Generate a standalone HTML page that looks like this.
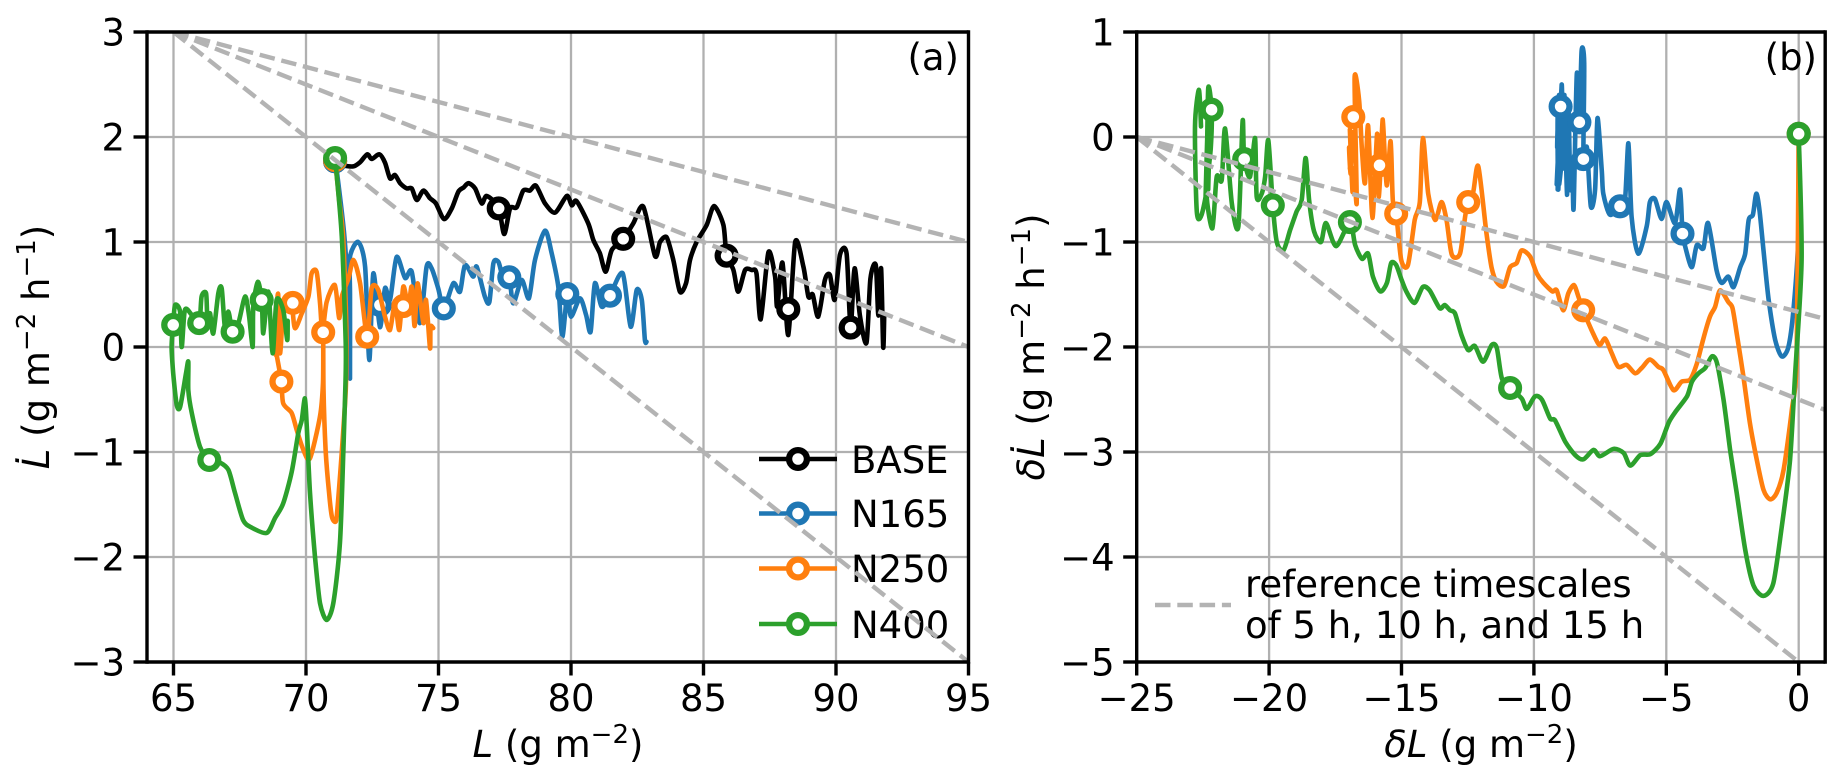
<!DOCTYPE html>
<html lang="en">
<head>
<meta charset="utf-8">
<title>Liquid water path phase-space chart</title>
<style>
html,body{margin:0;padding:0;background:#fff;width:1847px;height:782px;overflow:hidden}
svg{display:block}
text{font-family:"DejaVu Sans","Liberation Sans",sans-serif;font-size:37px;fill:#000}
.it{font-style:italic}
</style>
</head>
<body>
<svg id="figure" xmlns="http://www.w3.org/2000/svg" width="1847" height="782" viewBox="0 0 1847 782">
<defs>
<clipPath id="clipA"><rect x="147" y="32" width="821.5" height="630"/></clipPath>
<clipPath id="clipB"><rect x="1136.7" y="32" width="688.5" height="630"/></clipPath>
</defs>
<rect x="0" y="0" width="1847" height="782" fill="#fff"/>
<g id="gridA"></g>
<g id="gridB"></g>
<g id="seriesA" clip-path="url(#clipA)"></g>
<g id="seriesB" clip-path="url(#clipB)"></g>

<g>
  <g>
    <line x1="759" y1="459" x2="837" y2="459" stroke="#000" stroke-width="4.6"/>
    <circle cx="798" cy="459" r="8.9" fill="#fff" stroke="#000" stroke-width="6.3"/>
    <text x="851" y="473">BASE</text>
  </g>
  <g>
    <line x1="759" y1="513.5" x2="837" y2="513.5" stroke="#1f77b4" stroke-width="4.6"/>
    <circle cx="798" cy="513.5" r="8.9" fill="#fff" stroke="#1f77b4" stroke-width="6.3"/>
    <text x="851" y="527">N165</text>
  </g>
  <g>
    <line x1="759" y1="568.5" x2="837" y2="568.5" stroke="#ff7f0e" stroke-width="4.6"/>
    <circle cx="798" cy="568.5" r="8.9" fill="#fff" stroke="#ff7f0e" stroke-width="6.3"/>
    <text x="851" y="582">N250</text>
  </g>
  <g>
    <line x1="759" y1="624" x2="837" y2="624" stroke="#2ca02c" stroke-width="4.6"/>
    <circle cx="798" cy="624" r="8.9" fill="#fff" stroke="#2ca02c" stroke-width="6.3"/>
    <text x="851" y="638">N400</text>
  </g>
</g>

<g>
  <line x1="1155" y1="605" x2="1231" y2="605" stroke="#b3b3b3" stroke-width="4.4" stroke-dasharray="15.5 6.8"/>
  <text x="1245" y="597">reference timescales</text>
  <text x="1245" y="638">of 5 h, 10 h, and 15 h</text>
</g>

<g id="refA" clip-path="url(#clipA)"></g>
<g id="refB" clip-path="url(#clipB)"></g>
<g id="axesA"></g>
<g id="axesB"></g>

<text x="959" y="70" text-anchor="end">(a)</text>
<text x="1817" y="70" text-anchor="end">(b)</text>

<text x="558" y="757" text-anchor="middle"><tspan class="it">L</tspan> (g m<tspan dy="-14" font-size="26">−2</tspan><tspan dy="14">)</tspan></text>
<text x="1481" y="757" text-anchor="middle"><tspan class="it">δL</tspan> (g m<tspan dy="-14" font-size="26">−2</tspan><tspan dy="14">)</tspan></text>
<text transform="translate(49,347) rotate(-90)" text-anchor="middle"><tspan class="it">L̇</tspan> (g m<tspan dy="-14" font-size="26">−2</tspan><tspan dy="14"> h</tspan><tspan dy="-14" font-size="26">−1</tspan><tspan dy="14">)</tspan></text>
<text transform="translate(1044,347) rotate(-90)" text-anchor="middle"><tspan class="it">δL̇</tspan> (g m<tspan dy="-14" font-size="26">−2</tspan><tspan dy="14"> h</tspan><tspan dy="-14" font-size="26">−1</tspan><tspan dy="14">)</tspan></text>
</svg>

<script>
// ---------- Tick labels ----------
const aXTicks = [65, 70, 75, 80, 85, 90, 95];
const aYTicks = [-3, -2, -1, 0, 1, 2, 3];
const bXTicks = [-25, -20, -15, -10, -5, 0];
const bYTicks = [-5, -4, -3, -2, -1, 0, 1];

// ---------- Panel (a): L vs. Ldot ----------
const aBaseL = [71.1,71.4,71.78,72.04,72.31,72.48,72.77,72.98,73.17,73.36,73.55,73.8,73.99,74.18,74.43,74.68,74.9,75.21,75.5,75.75,75.95,76.13,76.38,76.63,76.82,77.26,77.48,77.7,77.95,78.2,78.45,78.68,79.02,79.4,79.84,80.03,80.21,80.65,80.84,81.09,81.31,81.54,81.97,82.35,82.73,83.17,83.36,83.61,83.86,84.11,84.34,84.49,84.74,85.12,85.4,85.75,85.87,86.13,86.31,86.57,86.82,87.0,87.16,87.45,87.7,87.78,87.98,88.2,88.46,88.77,88.96,89.12,89.33,89.58,89.77,89.95,90.15,90.4,90.55,90.7,90.9,91.15,91.3,91.5,91.6,91.7,91.78,91.82];
const aBaseRate = [1.77,1.73,1.72,1.76,1.835,1.79,1.835,1.755,1.606,1.638,1.56,1.51,1.51,1.4,1.49,1.416,1.368,1.219,1.32,1.48,1.52,1.56,1.51,1.368,1.438,1.33,1.076,1.32,1.33,1.49,1.49,1.536,1.368,1.28,1.438,1.35,1.39,1.178,1.02,0.892,0.717,0.924,1.025,1.178,1.336,0.867,1.0,1.044,0.829,0.527,0.607,0.829,1.0,1.162,1.343,1.162,0.876,0.733,0.527,0.733,0.733,0.7,0.264,0.902,0.67,0.384,0.803,0.114,1.0,0.765,0.479,0.5,0.289,0.638,0.686,0.45,0.88,0.89,0.18,0.75,0.3,0.04,0.65,0.78,0.3,0.75,0.0,0.3];
const aBaseMarkL = [71.1,77.27,81.97,85.87,88.2,90.55];
const aBaseMarkRate = [1.77,1.32,1.03,0.87,0.36,0.185];

const aN165L = [71.1,71.15,71.45,71.62,71.66,71.66,71.66,71.97,72.23,72.39,72.54,72.79,72.98,73.17,73.42,73.74,73.99,74.3,74.55,74.74,74.99,75.2,75.56,75.81,76.0,76.31,76.44,76.75,76.92,77.07,77.26,77.43,77.67,77.82,78.14,78.41,78.64,79.02,79.27,79.52,79.67,79.86,80.0,80.34,80.57,80.74,80.9,81.16,81.47,81.95,82.25,82.48,82.67,82.79,82.85];
const aN165Rate = [1.77,1.7,1.05,0.3,-0.3,0.5,0.86,1.0,0.765,-0.124,0.7,0.19,0.56,0.45,0.857,0.657,0.717,0.228,0.765,0.75,0.558,0.368,0.607,0.527,0.78,0.67,0.765,0.479,0.43,0.797,0.81,0.67,0.664,0.416,0.638,0.464,0.829,1.108,0.892,0.574,0.098,0.505,0.289,0.464,0.305,0.146,0.607,0.384,0.489,0.702,0.193,0.543,0.448,0.067,0.05];
const aN165MarkL = [71.1,72.79,75.2,77.67,79.86,81.47];
const aN165MarkRate = [1.77,0.4,0.368,0.664,0.505,0.489];

const aN250L = [71.1,71.25,71.4,71.52,71.5,71.35,71.2,71.13,70.98,70.87,70.74,70.66,70.65,70.64,70.53,70.15,69.9,69.65,69.46,69.14,69.07,68.9,68.85,68.88,68.95,69.02,69.14,69.3,69.46,69.58,69.84,70.09,70.21,70.4,70.53,70.62,70.78,71.09,71.25,71.35,71.6,71.79,72.04,72.31,72.48,72.73,72.98,73.17,73.36,73.52,73.67,73.86,73.99,74.1,74.21,74.43,74.53,74.68,74.7,74.8];
const aN250Rate = [1.78,1.4,1.05,0.2,-0.4,-1.0,-1.5,-1.66,-1.62,-1.39,-0.98,-0.4,0.13,-0.34,-0.66,-1.06,-0.98,-0.79,-0.63,-0.536,-0.33,-0.09,-0.05,0.3,0.5,-0.06,0.35,0.4,0.42,0.18,0.32,0.48,0.7,0.717,0.42,0.15,0.43,0.59,0.276,0.48,0.65,0.829,0.607,0.098,0.56,0.543,0.289,0.162,0.42,0.162,0.574,0.384,0.574,0.2,0.607,0.228,0.448,-0.01,0.193,0.18];
const aN250MarkL = [71.1,70.65,69.07,69.5,72.31,73.67];
const aN250MarkRate = [1.78,0.14,-0.33,0.42,0.098,0.39];

const aN400L = [71.1,71.35,71.5,71.47,71.41,71.28,71.03,70.78,70.53,70.34,70.15,70.03,69.96,69.84,69.71,69.46,69.14,68.83,68.52,67.95,67.63,67.32,67.07,66.75,66.35,66.0,65.69,65.56,65.56,65.47,65.25,65.12,64.99,64.93,64.99,65.06,65.25,65.31,65.43,65.69,65.97,66.06,66.23,66.28,66.38,66.5,66.69,66.82,66.94,67.07,67.23,67.45,67.7,67.85,67.99,68.01,68.18,68.33,68.39,68.58,68.74,68.89,69.14,69.29,69.31];
const aN400Rate = [1.8,1.05,0.0,-0.5,-0.98,-1.87,-2.44,-2.6,-2.44,-2.0,-1.39,-0.76,-0.49,-0.695,-0.82,-1.19,-1.49,-1.63,-1.77,-1.72,-1.65,-1.39,-1.17,-1.1,-1.076,-0.95,-0.63,-0.41,-0.14,-0.25,-0.57,-0.55,-0.25,0.0,0.228,0.4,0.336,0.0,0.352,0.305,0.228,0.48,0.51,0.257,0.32,0.13,0.51,0.558,0.19,0.336,0.146,0.228,0.48,0.3,0.0,0.384,0.62,0.448,0.13,0.527,-0.06,0.448,0.352,0.067,0.25];
const aN400MarkL = [71.1,66.35,64.99,65.97,67.23,68.33];
const aN400MarkRate = [1.8,-1.076,0.21,0.228,0.146,0.448];

// Reference timescales, panel (a): end values of dashed lines
const aRefStartL = 65;
const aRefStartRate = 3;
const aRefEndL = [95, 95, 95];
const aRefEndRate = [1, 0, -3];

// ---------- Panel (b): deltaL vs. deltaLdot ----------
const bN165L = [0,-0.02,-0.2,-0.39,-0.64,-0.89,-1.14,-1.33,-1.48,-1.6,-1.73,-1.89,-2.02,-2.21,-2.46,-2.66,-2.91,-3.1,-3.42,-3.6,-3.85,-4.04,-4.29,-4.39,-4.48,-4.67,-4.99,-5.18,-5.43,-5.62,-5.74,-6.06,-6.31,-6.43,-6.56,-6.75,-7.13,-7.38,-7.44,-7.6,-7.69,-7.85,-8.0,-8.13,-8.1,-8.2,-8.28,-8.38,-8.5,-8.55,-8.62,-8.7,-8.75,-8.85,-8.9,-8.95,-9.08,-9.1,-9.0,-9.05,-9.12,-8.99,-9.06,-9.0,-9.1,-8.92,-9.14,-8.96,-9.1,-8.88,-9.05,-8.82,-9.0];
const bN165Rate = [0.03,-0.98,-1.65,-2.0,-2.09,-1.93,-1.54,-1.08,-0.7,-0.54,-0.74,-0.79,-1.11,-1.24,-1.43,-1.33,-1.39,-1.27,-0.82,-1.06,-1.03,-1.24,-1.04,-0.92,-0.5,-0.82,-0.62,-0.78,-0.59,-0.62,-0.85,-1.11,-0.76,-0.06,-0.6,-0.66,-0.74,-0.54,-0.31,0.18,-0.5,-0.66,-0.1,-0.21,0.7,0.82,0.14,0.6,-0.68,-0.2,-0.5,0.3,-0.55,0.4,-0.3,0.5,-0.5,0.2,-0.3,0.4,-0.1,0.29,-0.4,0.1,-0.2,0.3,-0.45,0.45,-0.5,0.3,-0.45,0.1,-0.3];
const bN165MarkL = [0,-4.39,-6.75,-8.13,-8.28,-8.99];
const bN165MarkRate = [0.03,-0.92,-0.66,-0.21,0.14,0.29];

const bN250L = [0,-0.08,-0.26,-0.57,-0.83,-1.08,-1.33,-1.58,-1.84,-2.09,-2.34,-2.5,-2.66,-2.97,-3.16,-3.35,-3.6,-3.85,-4.1,-4.42,-4.73,-5.11,-5.3,-5.62,-5.93,-6.18,-6.5,-6.81,-7.06,-7.31,-7.53,-7.82,-8.14,-8.32,-8.49,-8.7,-8.89,-9.14,-9.3,-9.64,-9.89,-10.14,-10.46,-10.65,-10.9,-11.13,-11.41,-11.6,-11.79,-12.1,-12.29,-12.48,-12.6,-12.79,-13.1,-13.3,-13.49,-13.73,-13.99,-14.19,-14.31,-14.5,-14.76,-15.01,-15.2,-15.33,-15.41,-15.56,-15.69,-15.73,-15.85,-15.92,-16.1,-16.26,-16.38,-16.5,-16.6,-16.77,-16.69,-16.8,-16.85,-16.95,-16.9,-16.98,-16.92,-16.85,-16.95,-16.88];
const bN250Rate = [0.03,-2.12,-2.6,-3.17,-3.39,-3.45,-3.36,-3.08,-2.73,-2.28,-1.87,-1.63,-1.57,-1.46,-1.62,-1.71,-1.92,-2.16,-2.31,-2.33,-2.41,-2.22,-2.19,-2.12,-2.2,-2.25,-2.17,-2.19,-2.06,-1.92,-1.98,-1.84,-1.65,-1.52,-1.41,-1.49,-1.65,-1.46,-1.47,-1.39,-1.3,-1.14,-1.08,-1.2,-1.24,-1.42,-1.38,-1.24,-0.92,-0.28,-0.52,-0.62,-0.76,-1.11,-1.12,-0.79,-0.62,-0.79,-0.54,-0.01,-0.62,-0.79,-1.22,-1.17,-0.73,-0.6,-0.04,-0.46,0.11,0.1,-0.57,0.03,-0.77,0.11,-0.44,-0.1,0.35,0.56,-0.62,-0.3,-0.52,0.07,-0.3,-0.1,-0.35,0.0,-0.3,0.05];
const bN250MarkL = [0,-8.14,-12.48,-15.2,-15.83,-16.82];
const bN250MarkRate = [0.03,-1.65,-0.62,-0.73,-0.27,0.19];

const bN400L = [0,0.11,-0.14,-0.33,-0.64,-0.96,-1.33,-1.71,-2.02,-2.34,-2.59,-2.84,-3.09,-3.28,-3.53,-3.78,-4.03,-4.22,-4.66,-4.91,-5.22,-5.6,-5.98,-6.36,-6.61,-6.99,-7.5,-7.75,-8.13,-8.44,-8.82,-9.2,-9.39,-9.7,-9.96,-10.27,-10.46,-10.9,-11.21,-11.4,-11.59,-11.92,-12.23,-12.48,-12.73,-12.98,-13.17,-13.37,-13.56,-13.94,-14.2,-14.51,-14.82,-15.01,-15.2,-15.39,-15.55,-15.8,-16.08,-16.26,-16.49,-16.75,-16.95,-17.47,-17.85,-18.04,-18.3,-18.49,-18.62,-18.77,-18.96,-19.21,-19.46,-19.71,-19.86,-20.03,-20.15,-20.28,-20.47,-20.53,-20.72,-20.94,-21.0,-21.16,-21.41,-21.66,-21.79,-21.98,-22.14,-22.36,-22.2,-22.17,-22.3,-22.35,-22.28,-22.37,-22.3,-22.4,-22.25,-22.3,-22.22,-22.33,-22.26,-22.3,-22.55,-22.73,-22.8,-22.65,-22.57];
const bN400Rate = [0.03,-1.17,-2.28,-3.08,-3.71,-4.25,-4.37,-4.27,-3.93,-3.39,-2.98,-2.5,-2.15,-2.09,-2.2,-2.25,-2.33,-2.47,-2.62,-2.72,-2.92,-3.02,-3.03,-3.13,-3.01,-2.97,-3.04,-2.98,-3.07,-3.03,-2.9,-2.7,-2.68,-2.5,-2.47,-2.59,-2.49,-2.39,-2.3,-2.01,-1.98,-2.14,-1.99,-2.03,-1.89,-1.68,-1.65,-1.6,-1.63,-1.46,-1.43,-1.58,-1.47,-1.35,-1.22,-1.2,-1.39,-1.47,-1.33,-1.11,-1.16,-1.03,-0.81,-1.04,-0.82,-1.0,-0.9,-0.6,-0.2,-0.6,-0.71,-0.89,-1.08,-1.0,-0.65,-0.03,-0.38,-0.54,-0.57,-0.01,-0.38,-0.21,0.15,-0.85,-0.63,0.08,-0.41,-0.38,-0.87,-0.54,-0.1,0.26,0.46,-0.4,0.2,-0.5,0.3,-0.6,0.3,-0.5,0.35,-0.45,0.1,-0.4,-0.74,-0.71,0.1,0.45,0.1];
const bN400MarkL = [0,-10.9,-16.95,-19.86,-20.94,-22.17];
const bN400MarkRate = [0.03,-2.39,-0.81,-0.65,-0.21,0.26];

// Reference timescales, panel (b): end values of dashed lines
const bRefStartL = -25;
const bRefStartRate = 0;
const bRefEndL = [1, 1, 0];
const bRefEndRate = [-1.733, -2.6, -5];

// ---------- Axis functions ----------
const xA = v => 147 + (v - 64) * 26.5;
const yA = v => 347 - v * 105;
const xB = v => 1136.7 + (v + 25) * 26.48;
const yB = v => 137 - v * 105;

const SVGNS = 'http://www.w3.org/2000/svg';
const minus = v => (v < 0 ? '\u2212' + Math.abs(v) : String(v));

// Smooth path through the mapped data values (Catmull-Rom)
function smoothPath(xs, ys, sx, sy) {
  const px = xs.map(sx);
  const py = ys.map(sy);
  const n = px.length;
  const k = 0.8 / 6;
  let d = 'M' + px[0].toFixed(1) + ' ' + py[0].toFixed(1);
  for (let i = 0; i < n - 1; i++) {
    const a = Math.max(i - 1, 0);
    const b = Math.min(i + 2, n - 1);
    const c1x = px[i] + (px[i + 1] - px[a]) * k;
    const c1y = py[i] + (py[i + 1] - py[a]) * k;
    const c2x = px[i + 1] - (px[b] - px[i]) * k;
    const c2y = py[i + 1] - (py[b] - py[i]) * k;
    d += 'C' + c1x.toFixed(1) + ' ' + c1y.toFixed(1) + ' ' + c2x.toFixed(1) + ' ' + c2y.toFixed(1) + ' ' + px[i + 1].toFixed(1) + ' ' + py[i + 1].toFixed(1);
  }
  return d;
}

function drawLine(parent, xs, ys, sx, sy, color, name) {
  const el = document.createElementNS(SVGNS, 'path');
  
  
  el.setAttribute('d', smoothPath(xs, ys, sx, sy));
  el.setAttribute('fill', 'none');
  el.setAttribute('stroke', color);
  el.setAttribute('stroke-width', '4.6');
  el.setAttribute('stroke-linejoin', 'round');
  el.setAttribute('stroke-linecap', 'round');
  parent.appendChild(el);
}

function drawMarkers(parent, xs, ys, sx, sy, color, name) {
  xs.forEach((v, i) => {
    const c = document.createElementNS(SVGNS, 'circle');
    
    
    c.setAttribute('cx', sx(v).toFixed(1));
    c.setAttribute('cy', sy(ys[i]).toFixed(1));
    c.setAttribute('r', '8.9');
    c.setAttribute('fill', '#fff');
    c.setAttribute('stroke', color);
    c.setAttribute('stroke-width', '6.3');
    parent.appendChild(c);
  });
}

function drawRefs(parent, x0, y0, xe, ye, sx, sy, name) {
  xe.forEach((v, i) => {
    const l = document.createElementNS(SVGNS, 'line');
    
    
    l.setAttribute('x1', sx(x0));
    l.setAttribute('y1', sy(y0));
    l.setAttribute('x2', sx(v));
    l.setAttribute('y2', sy(ye[i]));
    l.setAttribute('stroke', '#b3b3b3');
    l.setAttribute('stroke-width', '4.4');
    l.setAttribute('stroke-dasharray', '15.5 6.8');
    parent.appendChild(l);
  });
}

function seg(parent, x1, y1, x2, y2, color, w, name) {
  const l = document.createElementNS(SVGNS, 'line');
  
  
  l.setAttribute('x1', x1);
  l.setAttribute('y1', y1);
  l.setAttribute('x2', x2);
  l.setAttribute('y2', y2);
  l.setAttribute('stroke', color);
  l.setAttribute('stroke-width', w);
  parent.appendChild(l);
}

function label(parent, x, y, str, anchor, name) {
  const t = document.createElementNS(SVGNS, 'text');
  
  
  t.setAttribute('x', x);
  t.setAttribute('y', y);
  t.setAttribute('text-anchor', anchor);
  t.textContent = str;
  parent.appendChild(t);
}

function drawAxes(gridEl, axesEl, xt, yt, sx, sy, L, R, T, B) {
  xt.forEach(v => {
    seg(gridEl, sx(v), T, sx(v), B, '#b0b0b0', 2.3, 'x-grid-line');
    seg(axesEl, sx(v), B, sx(v), B + 13.5, '#000', 3.4, 'x-tick');
    label(axesEl, sx(v), B + 49, minus(v), 'middle', 'x-tick-label');
  });
  yt.forEach(v => {
    seg(gridEl, L, sy(v), R, sy(v), '#b0b0b0', 2.3, 'y-grid-line');
    seg(axesEl, L - 13.5, sy(v), L, sy(v), '#000', 3.4, 'y-tick');
    label(axesEl, L - 22, sy(v) + 13.5, minus(v), 'end', 'y-tick-label');
  });
  seg(axesEl, L, T - 1.7, L, B + 1.7, '#000', 3.4, 'left-spine');
  seg(axesEl, R, T - 1.7, R, B + 1.7, '#000', 3.4, 'right-spine');
  seg(axesEl, L, T, R, T, '#000', 3.4, 'top-spine');
  seg(axesEl, L, B, R, B, '#000', 3.4, 'bottom-spine');
}

const byId = id => document.getElementById(id);

drawAxes(byId('gridA'), byId('axesA'), aXTicks, aYTicks, xA, yA, 147, 968.5, 32, 662);
drawAxes(byId('gridB'), byId('axesB'), bXTicks, bYTicks, xB, yB, 1136.7, 1825.2, 32, 662);

const sA = byId('seriesA');
drawLine(sA, aBaseL, aBaseRate, xA, yA, '#000000', 'base-line');
drawMarkers(sA, aBaseMarkL, aBaseMarkRate, xA, yA, '#000000', 'base-marker');
drawLine(sA, aN165L, aN165Rate, xA, yA, '#1f77b4', 'n165-line');
drawMarkers(sA, aN165MarkL, aN165MarkRate, xA, yA, '#1f77b4', 'n165-marker');
drawLine(sA, aN250L, aN250Rate, xA, yA, '#ff7f0e', 'n250-line');
drawMarkers(sA, aN250MarkL, aN250MarkRate, xA, yA, '#ff7f0e', 'n250-marker');
drawLine(sA, aN400L, aN400Rate, xA, yA, '#2ca02c', 'n400-line');
drawMarkers(sA, aN400MarkL, aN400MarkRate, xA, yA, '#2ca02c', 'n400-marker');

const sB = byId('seriesB');
drawLine(sB, bN165L, bN165Rate, xB, yB, '#1f77b4', 'n165-delta-line');
drawMarkers(sB, bN165MarkL, bN165MarkRate, xB, yB, '#1f77b4', 'n165-delta-marker');
drawLine(sB, bN250L, bN250Rate, xB, yB, '#ff7f0e', 'n250-delta-line');
drawMarkers(sB, bN250MarkL, bN250MarkRate, xB, yB, '#ff7f0e', 'n250-delta-marker');
drawLine(sB, bN400L, bN400Rate, xB, yB, '#2ca02c', 'n400-delta-line');
drawMarkers(sB, bN400MarkL, bN400MarkRate, xB, yB, '#2ca02c', 'n400-delta-marker');

drawRefs(byId('refA'), aRefStartL, aRefStartRate, aRefEndL, aRefEndRate, xA, yA, 'reference-timescale-line');
drawRefs(byId('refB'), bRefStartL, bRefStartRate, bRefEndL, bRefEndRate, xB, yB, 'reference-timescale-line');
</script>
</body>
</html>
